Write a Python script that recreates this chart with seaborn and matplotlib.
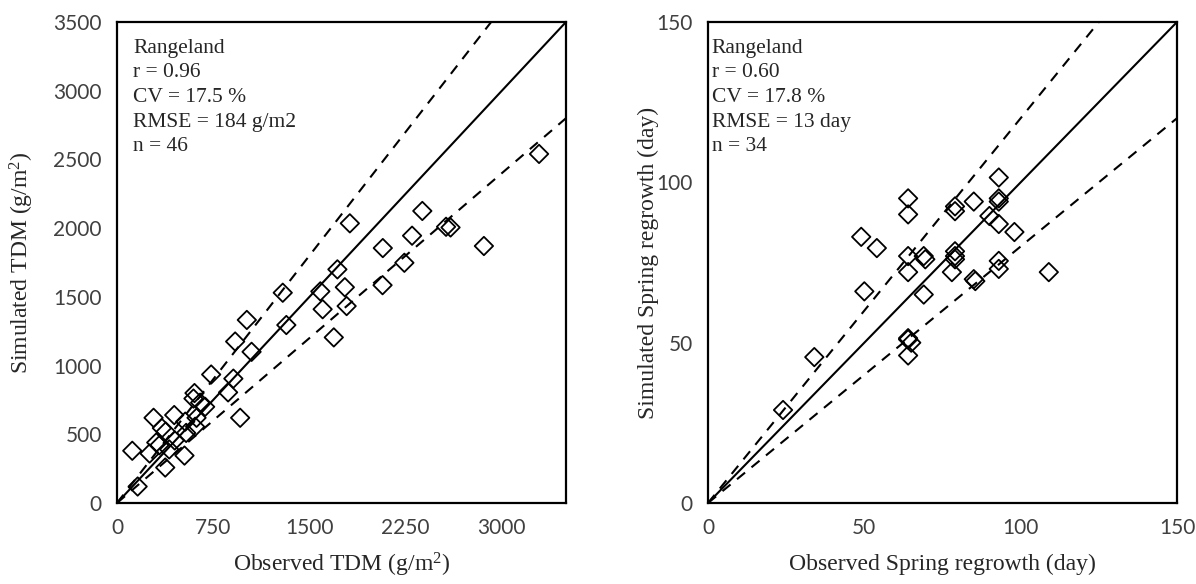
import numpy as np
import pandas as pd
import matplotlib
matplotlib.use("Agg")
import matplotlib.pyplot as plt
import seaborn as sns

# ---------------- data ----------------
tdm_obs = [3290, 2860, 2565, 2600, 2380, 2300, 2240, 2072, 2070, 1815, 1718, 1776,
           1790, 1690, 1585, 1603, 1320, 1292, 1012, 1049, 921, 907, 866, 960,
           734, 604, 596, 648, 687, 446, 285, 350, 532, 609, 539, 306,
           407, 119, 254, 526, 376, 161, 330, 380, 450, 620]
tdm_sim = [2540, 1870, 2010, 2005, 2125, 1945, 1748, 1855, 1585, 2035, 1700, 1570,
           1433, 1205, 1540, 1410, 1295, 1530, 1332, 1100, 1175, 905, 805, 620,
           935, 800, 760, 730, 700, 640, 620, 545, 592, 555, 510, 440,
           390, 380, 360, 345, 258, 120, 420, 520, 455, 620]

srg_obs = [93, 64, 64, 79, 79, 85, 93, 90, 93, 98, 49, 54, 64, 69, 69.5, 79, 79,
           78, 64, 93, 93, 85, 85.5, 69, 50, 64, 65, 64, 34, 24, 109, 79, 64, 93]
srg_sim = [101.5, 95, 90, 92.5, 91, 94, 95, 89.5, 87, 84.5, 83, 79.5, 77, 77, 76,
           78.5, 76, 72, 72, 75.5, 73, 69.8, 69.2, 65, 66, 51.4, 50, 46, 45.5, 29,
           72, 77, 51, 94]

left_ticks_x = [0, 750, 1500, 2250, 3000]
left_ticks_y = [0, 500, 1000, 1500, 2000, 2500, 3000, 3500]
right_ticks = [0, 50, 100, 150]

left_text = ["Rangeland", "r = 0.96", "CV = 17.5 %", "RMSE = 184 g/m2", "n = 46"]
right_text = ["Rangeland", "r = 0.60", "CV = 17.8 %", "RMSE = 13 day", "n = 34"]

left_lim = 3500
right_lim = 150

# ---------------- style ----------------
sns.set_theme(style="white")
plt.rcParams["font.family"] = ["Lato", "DejaVu Sans"]
plt.rcParams["mathtext.fontset"] = "custom"
plt.rcParams["mathtext.rm"] = "Liberation Serif"
plt.rcParams["mathtext.it"] = "Liberation Serif:italic"

fig = plt.figure(figsize=(11.96, 5.84), dpi=100)
ax1 = fig.add_axes([117 / 1196, 1 - 503 / 584, 449 / 1196, 481 / 584])
ax2 = fig.add_axes([708 / 1196, 1 - 503 / 584, 469 / 1196, 481 / 584])

serif = ["Liberation Serif", "DejaVu Serif"]
tick_color = "#404040"


def draw(ax, xo, ys, lim, xticks, yticks, xlabel, ylabel, lines, textx, ylab_x):
    ref = pd.DataFrame({"x": [0, lim], "y": [0, lim]})
    sns.lineplot(data=ref, x="x", y="y", ax=ax, color="black", linewidth=1.5)
    up = pd.DataFrame({"x": [0, lim], "y": [0, 1.2 * lim]})
    lo = pd.DataFrame({"x": [0, lim], "y": [0, 0.8 * lim]})
    for d in (up, lo):
        sns.lineplot(data=d, x="x", y="y", ax=ax, color="black", linewidth=1.5,
                     linestyle=(0, (5, 4)))
    df = pd.DataFrame({"obs": xo, "sim": ys})
    sns.scatterplot(data=df, x="obs", y="sim", ax=ax, marker="D", s=88,
                    facecolor="none", edgecolor="black", linewidth=1.3, zorder=3)
    ax.set_xlim(0, lim)
    ax.set_ylim(0, lim)
    ax.set_xticks(xticks)
    ax.set_yticks(yticks)
    ax.tick_params(axis="both", direction="out", length=5, width=1.3,
                   color="black", labelsize=15, labelcolor=tick_color, pad=6)
    for sp in ax.spines.values():
        sp.set_visible(True)
        sp.set_color("black")
        sp.set_linewidth(1.6)
    ax.set_xlabel(xlabel, fontsize=17, family=serif)
    ax.set_ylabel(ylabel, fontsize=17, family=serif)
    ax.xaxis.set_label_coords(0.5, -0.128)
    ax.xaxis.label.set_va("center")
    ax.yaxis.set_label_coords(ylab_x, 0.5)
    ax.yaxis.label.set_va("center")
    ax.text(textx, 0.965, "\n".join(lines), transform=ax.transAxes, ha="left",
            va="top", fontsize=15.5, family=serif, linespacing=1.4)
    ax.grid(False)


draw(ax1, tdm_obs, tdm_sim, left_lim, left_ticks_x, left_ticks_y,
     r"Observed TDM (g/m$^{2}$)", r"Simulated TDM (g/m$^{2}$)", left_text, 0.036,
     -0.2116)
draw(ax2, srg_obs, srg_sim, right_lim, right_ticks, right_ticks,
     "Observed Spring regrowth (day)", "Simulated Spring regrowth (day)",
     right_text, 0.008, -0.127)

fig.savefig("out.png", dpi=100)
